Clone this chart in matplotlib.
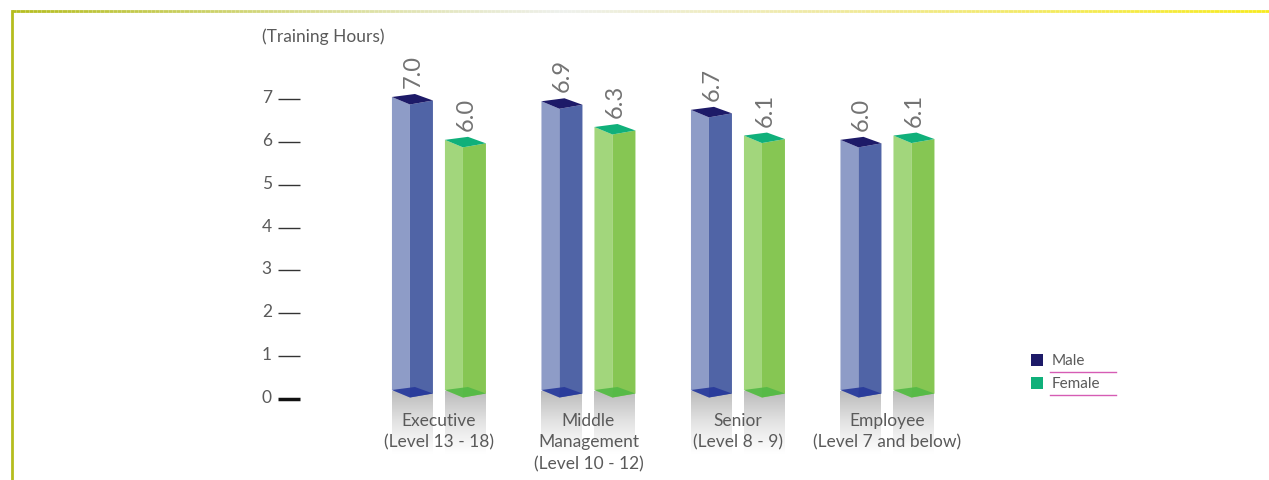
import numpy as np
import matplotlib.pyplot as plt
from matplotlib.patches import Polygon, Rectangle
from matplotlib.collections import LineCollection
from matplotlib.colors import LinearSegmentedColormap, to_rgb

categories = ['Executive\n(Level 13 - 18)', 'Middle\nManagement\n(Level 10 - 12)',
              'Senior\n(Level 8 - 9)', 'Employee\n(Level 7 and below)']
male = [7.0, 6.9, 6.7, 6.0]
female = [6.0, 6.3, 6.1, 6.1]
series_names = ['Male', 'Female']
y_ticks = [0, 1, 2, 3, 4, 5, 6, 7]
unit_label = '(Training Hours)'

W, H = 1269, 481
XLIM = (-2.936, 5.552)
YLIM = (-1.89, 9.333)
PX = (XLIM[1] - XLIM[0]) / W
PY = (YLIM[1] - YLIM[0]) / H

# face colours: left face, right face, top, base, legend swatch
STYLES = {
    'Male': dict(left='#8e9cc7', right='#5064a6', top='#1d1a68', base='#26389a',
                 swatch='#1d1a68', xs=(-47, -29, -6)),
    'Female': dict(left='#a2d67c', right='#86c653', top='#10b07a', base='#52b946',
                   swatch='#10b07a', xs=(6, 24, 47)),
}

plt.rcParams['font.family'] = ['Lato', 'DejaVu Sans']
TEXT = '#5a5a5a'

fig = plt.figure(figsize=(W / 100, H / 100), dpi=100)
ax = fig.add_axes([0, 0, 1, 1])
ax.set_xlim(*XLIM)
ax.set_ylim(*YLIM)
ax.axis('off')

shadow_cmap = LinearSegmentedColormap.from_list('shadow', ['#bcbcbc', '#e4e4e4', '#ffffff'])
grad = np.linspace(0, 1, 100).reshape(-1, 1)


def draw_bar(cx, v, st):
    xl, xf, xr = [cx + o * PX for o in st['xs']]
    xb = xl + xr - xf
    # top face vertical offsets (pixels, up positive)
    tl, tb, tf, tr = 2, 5, -5.5, -1.5
    bl, bb, bf, br = 9, 12, 1.5, 5.5
    # shadow below the bar
    ax.imshow(grad, cmap=shadow_cmap, aspect='auto', interpolation='bilinear',
              extent=[xl, xr, -55 * PY, 8 * PY], zorder=1)
    left = Polygon([(xl, v + tl * PY), (xf, v + tf * PY), (xf, bf * PY), (xl, bl * PY)],
                   closed=True, facecolor=st['left'], edgecolor='none', zorder=2)
    right = Polygon([(xf, v + tf * PY), (xr, v + tr * PY), (xr, br * PY), (xf, bf * PY)],
                    closed=True, facecolor=st['right'], edgecolor='none', zorder=2)
    base = Polygon([(xl, bl * PY), (xb, bb * PY), (xr, br * PY), (xf, bf * PY)],
                   closed=True, facecolor=st['base'], edgecolor='none', alpha=0.9, zorder=3)
    top = Polygon([(xl, v + tl * PY), (xb, v + tb * PY), (xr, v + tr * PY), (xf, v + tf * PY)],
                  closed=True, facecolor=st['top'], edgecolor='none', zorder=3)
    for p in (left, right, base, top):
        ax.add_patch(p)
    ax.text(xf + 3 * PX, v + 12 * PY, f'{v:.1f}', rotation=90, ha='center', va='bottom',
            fontsize=17, color='#737373', zorder=4)


for i, (m, f) in enumerate(zip(male, female)):
    draw_bar(i, m, STYLES['Male'])
    draw_bar(i, f, STYLES['Female'])
    ax.text(i, -13 * PY, categories[i], ha='center', va='top', fontsize=12.5,
            color=TEXT, linespacing=1.42, zorder=5)

# y ticks
tick_x0, tick_x1 = -1.077, -0.930
for t in y_ticks:
    lw = 2.5 if t == 0 else 1.0
    col = '#111111' if t == 0 else '#333333'
    ax.plot([tick_x0, tick_x1], [t, t], color=col, lw=lw, solid_capstyle='butt')
    ax.text(tick_x0 - 6 * PX, t + 2 * PY, str(t), ha='right', va='center', fontsize=12.5, color=TEXT)

ax.text(tick_x0 - 16 * PX, 8.47, unit_label, ha='left', va='center', fontsize=12.5, color=TEXT)

# legend
leg_x = 1031
for k, name in enumerate(series_names):
    y_top = 355 + 23 * k
    fx, fy = leg_x / W, 1 - (y_top + 12) / H
    fig.patches.append(Rectangle((fx, fy), 12 / W, 12 / H, transform=fig.transFigure,
                                 facecolor=STYLES[name]['swatch'], edgecolor='none'))
    fig.text((leg_x + 21) / W, 1 - (y_top + 6) / H, name, ha='left', va='center',
             fontsize=11, color=TEXT)
    fig.lines.append(plt.Line2D([1050 / W, 1116 / W], [1 - (y_top + 18) / H] * 2,
                                transform=fig.transFigure, color='#d65cb4', lw=1))

# frame: olive left edge, gradient top edge
stops_x = [12, 300, 560, 820, 1269]
stops_c = ['#b5bd1e', '#d7db8c', '#eef0ec', '#efe9a2', '#f7ea1c']
xs = np.linspace(12, W, 300)
cols = np.array([to_rgb(c) for c in stops_c])
seg_cols = np.column_stack([np.interp(xs[:-1], stops_x, cols[:, j]) for j in range(3)])
segs = [[(xs[j] / W, 1 - 12 / H), (xs[j + 1] / W, 1 - 12 / H)] for j in range(len(xs) - 1)]
fig.add_artist(LineCollection(segs, colors=seg_cols, linewidths=2, transform=fig.transFigure))
fig.add_artist(plt.Line2D([12 / W, 12 / W], [0, 1 - 12 / H], transform=fig.transFigure,
                          color='#b5bd1e', lw=2))

fig.savefig('out.png', dpi=100)
